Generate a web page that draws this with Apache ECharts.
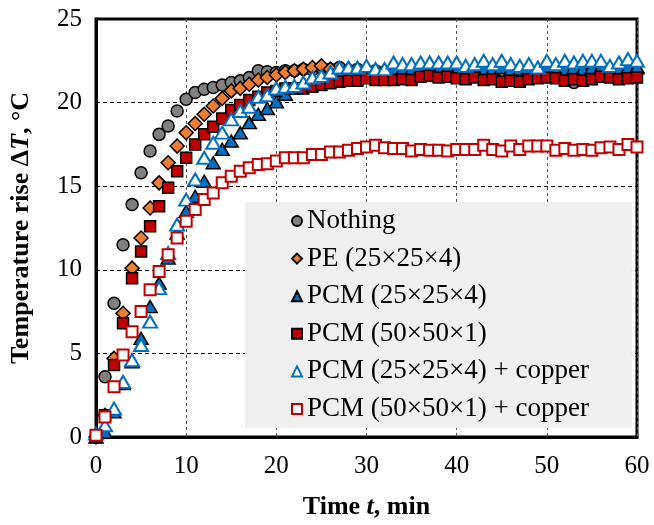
<!DOCTYPE html>
<html>
<head>
<meta charset="utf-8">
<script src="https://cdn.jsdelivr.net/npm/echarts@6/dist/echarts.min.js"></script>
<style>
  html, body { margin: 0; padding: 0; background: #fff; }
  #chart { width: 654px; height: 525px; }
</style>
</head>
<body>
<div id="chart"></div>
<script>
// time axis (min)
const times = [0,1,2,3,4,5,6,7,8,9,10,11,12,13,14,15,16,17,18,19,20,
  21,22,23,24,25,26,27,28,29,30,31,32,33,34,35,36,37,38,39,40,
  41,42,43,44,45,46,47,48,49,50,51,52,53,54,55,56,57,58,59,60];

// temperature rise, one value per minute
const nothing = [0,3.6,8.0,11.5,13.9,15.8,17.1,18.1,18.6,19.5,20.2,
  20.6,20.8,20.9,21.05,21.2,21.3,21.5,21.9,21.85,21.8,
  21.9,21.9,22.0,21.95,22.1,22.0,22.1,21.9,22.0,21.9,
  21.9,21.8,21.9,21.8,21.7,21.8,21.9,21.8,21.7,21.8,
  21.8,21.9,21.7,21.8,21.8,21.7,21.8,21.9,21.8,21.7,
  21.8,21.6,21.2,21.6,21.7,21.8,21.7,21.8,21.7,21.8];

const pe = [0,1.3,4.7,7.4,10.1,11.9,13.7,15.2,16.4,17.4,18.2,
  18.75,19.3,19.8,20.25,20.7,20.85,21.1,21.35,21.5,21.65,
  21.8,21.9,22.0,22.1,22.2,22.0,21.9,22.0,21.9,21.9,
  21.8,21.9,21.8,21.9,21.8,21.9,21.8,21.8,21.9,21.8,
  21.9,21.8,21.8,21.9,21.8,21.8,21.9,21.8,21.7,21.8,
  21.8,21.7,21.8,21.8,21.7,21.8,21.8,21.7,21.8,21.8];

const pcm25 = [0,0.3,1.5,3.2,4.5,5.9,7.8,9.2,10.7,12.2,13.5,
  14.4,15.3,16.4,17.2,17.7,18.2,18.8,19.3,19.65,20.05,
  20.5,20.9,21.1,21.3,21.5,21.6,21.7,21.8,21.8,21.9,
  21.9,21.9,22.0,22.0,22.0,22.1,22.0,22.0,22.1,22.0,
  22.0,22.1,22.0,22.0,22.1,22.0,22.0,22.1,22.0,22.1,
  22.0,22.0,22.1,22.0,22.1,22.1,22.0,22.1,22.1,22.1];

const pcm50 = [0,1.3,4.3,6.8,9.5,11.1,12.6,13.8,14.9,15.9,16.7,
  17.5,18.1,18.55,19.05,19.55,19.85,20.15,20.35,20.6,20.7,
  20.85,20.85,20.85,20.95,21.05,21.15,21.25,21.3,21.3,21.45,
  21.35,21.35,21.35,21.4,21.35,21.55,21.6,21.5,21.55,21.45,
  21.4,21.5,21.35,21.4,21.25,21.3,21.25,21.4,21.45,21.5,
  21.45,21.3,21.4,21.3,21.4,21.55,21.5,21.4,21.45,21.5];

const pcm25Cu = [0.2,0.7,1.7,3.3,4.6,5.5,6.9,8.9,11.0,12.7,14.2,
  15.4,16.7,17.6,18.2,19.0,19.5,19.75,20.35,20.45,20.85,
  20.95,21.0,21.2,21.5,21.6,21.8,22.1,22.1,22.1,22.2,
  22.0,22.0,22.4,22.3,22.3,22.4,22.4,22.4,22.4,22.4,
  22.2,22.3,22.5,22.3,22.5,22.3,22.2,22.3,22.1,22.5,
  22.3,22.5,22.4,22.5,22.5,22.5,22.2,22.4,22.6,22.5];

const pcm50Cu = [0.1,1.2,3.0,4.9,6.3,7.5,8.8,9.9,10.9,11.9,12.9,
  13.6,14.2,14.6,15.2,15.6,15.9,16.1,16.3,16.35,16.5,
  16.7,16.7,16.7,16.9,16.9,17.05,17.05,17.15,17.25,17.35,
  17.45,17.3,17.25,17.25,17.1,17.2,17.15,17.15,17.1,17.2,
  17.2,17.2,17.45,17.2,17.1,17.4,17.2,17.4,17.4,17.4,
  17.15,17.25,17.15,17.2,17.15,17.3,17.35,17.2,17.5,17.35];

const xTicks = [0, 60, 10];
const yTicks = [0, 25, 5];

const FONT = '"Liberation Serif", "Times New Roman", serif';
const pairs = vals => times.map((t, i) => [t, vals[i]]);

const chart = echarts.init(document.getElementById('chart'));

function mk(name, vals, symbol, size, fill, border, bw) {
  return {
    name: name,
    type: 'scatter',
    data: pairs(vals),
    symbol: symbol,
    symbolSize: size,
    itemStyle: { color: fill, borderColor: border, borderWidth: bw, opacity: 1 },
    emphasis: { disabled: true }
  };
}

const titleRich = {
  b: { fontFamily: FONT, fontSize: 26, fontWeight: 'bold', color: '#000' },
  bi: { fontFamily: FONT, fontSize: 26, fontWeight: 'bold', fontStyle: 'italic', color: '#000' }
};

const option = {
  animation: false,
  grid: {
    left: 96, right: 17, top: 19, bottom: 88,
    show: true, borderColor: '#000', borderWidth: 3, backgroundColor: 'transparent'
  },
  legend: {
    orient: 'vertical',
    left: 245, top: 202,
    padding: [4, 43, 4, 46],
    backgroundColor: '#efefef',
    itemWidth: 10, itemHeight: 10,
    itemGap: 7.6,
    textStyle: { fontFamily: FONT, fontSize: 27, color: '#000', lineHeight: 30 }
  },
  xAxis: {
    type: 'value',
    min: xTicks[0], max: xTicks[1], interval: xTicks[2],
    name: '{b|Time }{bi|t}{b|, min}',
    nameLocation: 'middle',
    nameGap: 57,
    nameTextStyle: { rich: titleRich },
    axisLine: { show: true, lineStyle: { color: '#000', width: 3 } },
    axisTick: { show: false },
    axisLabel: { fontFamily: FONT, fontSize: 25, color: '#000', margin: 17 },
    splitLine: { show: true, lineStyle: { color: '#555', type: [3, 3], width: 1 } }
  },
  yAxis: {
    type: 'value',
    min: yTicks[0], max: yTicks[1], interval: yTicks[2],
    name: '{b|Temperature rise Δ}{bi|T}{b|, °C}',
    nameLocation: 'middle',
    nameGap: 62,
    nameTextStyle: { rich: titleRich },
    axisLine: { show: true, lineStyle: { color: '#000', width: 3 } },
    axisTick: { show: false },
    axisLabel: { fontFamily: FONT, fontSize: 25, color: '#000', margin: 14 },
    splitLine: { show: true, lineStyle: { color: '#000', type: [4, 3], width: 1 } }
  },
  series: [
    mk('Nothing', nothing, 'circle', 12, '#808080', '#000', 1.5),
    mk('PE (25×25×4)', pe, 'diamond', 14, '#ED7D31', '#000', 1.5),
    mk('PCM (25×25×4)', pcm25, 'triangle', [14, 12], '#0070C0', '#000', 1.5),
    mk('PCM (50×50×1)', pcm50, 'rect', 11, '#C00000', '#000', 1.5),
    mk('PCM (25×25×4) + copper', pcm25Cu, 'triangle', [14, 12], '#fff', '#0070C0', 2),
    mk('PCM (50×50×1) + copper', pcm50Cu, 'rect', 11, '#fff', '#C00000', 2)
  ]
};

chart.setOption(option);
</script>
</body>
</html>
